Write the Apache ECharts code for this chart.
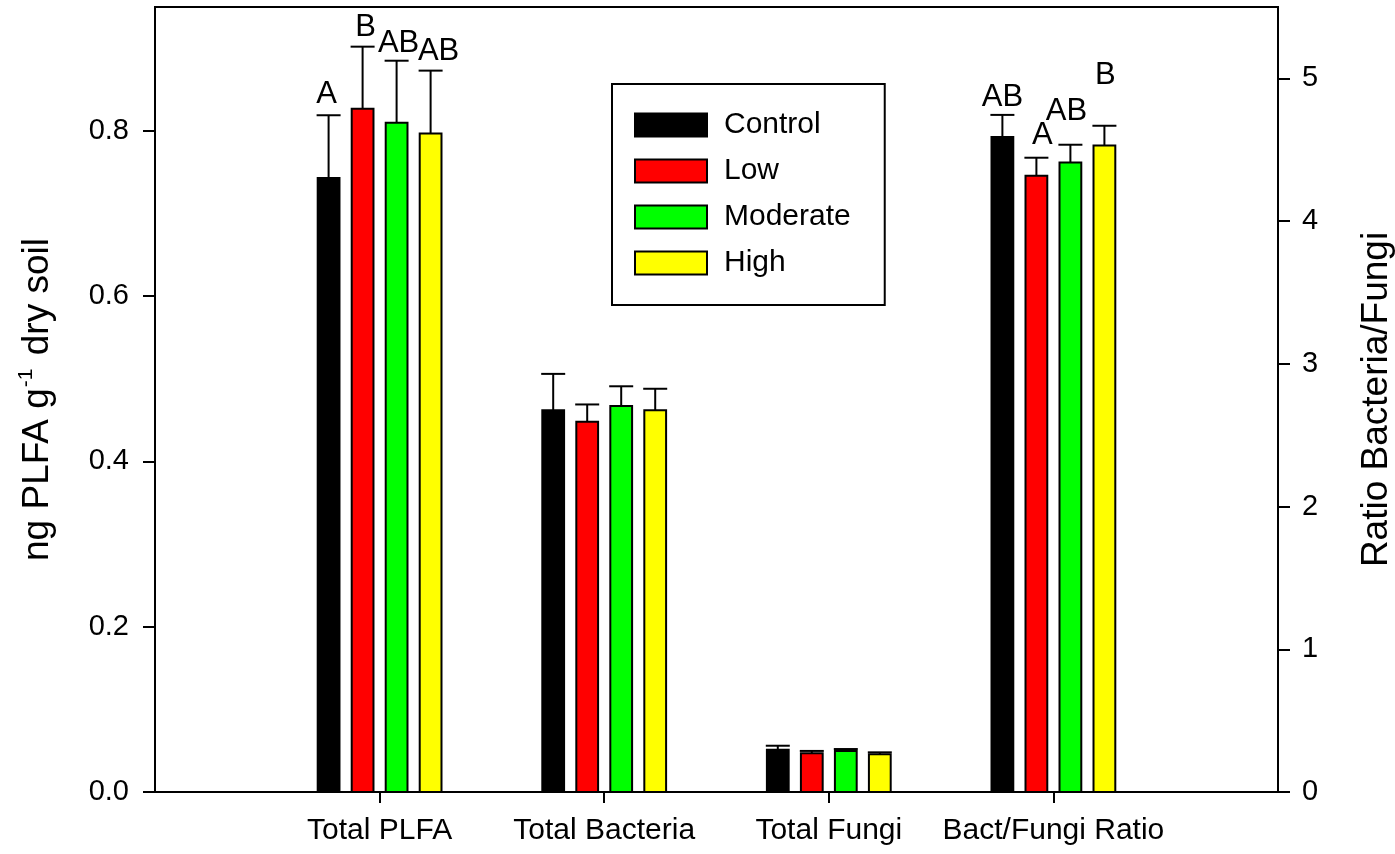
<!DOCTYPE html>
<html>
<head>
<meta charset="utf-8">
<script src="https://cdn.jsdelivr.net/npm/echarts@6/dist/echarts.min.js"></script>
<style>
html,body{margin:0;padding:0;background:#fff;}
#chart{width:1395px;height:854px;}
</style>
</head>
<body>
<div id="chart"></div>
<script>
// ---- data ----
const categories = ['Total PLFA', 'Total Bacteria', 'Total Fungi', 'Bact/Fungi Ratio'];
const treatments = ['Control', 'Low', 'Moderate', 'High'];
// means per treatment (Control, Low, Moderate, High)
const meanPLFA     = [0.743, 0.827, 0.810, 0.797];
const meanBacteria = [0.462, 0.448, 0.467, 0.462];
const meanFungi    = [0.051, 0.047, 0.0497, 0.0457];
const meanRatio    = [4.59, 4.318, 4.41, 4.53];
// standard errors
const sePLFA     = [0.076, 0.075, 0.075, 0.076];
const seBacteria = [0.044, 0.021, 0.024, 0.026];
const seFungi    = [0.005, 0.0027, 0.0023, 0.0023];
const seRatio    = [0.154, 0.126, 0.125, 0.138];
// significance letters
const lettersPLFA  = ['A', 'B', 'AB', 'AB'];
const lettersRatio = ['AB', 'A', 'AB', 'B'];
// axis ticks
const leftTicks  = [0, 0.2, 0.4, 0.6, 0.8];
const rightTicks = [0, 1, 2, 3, 4, 5];

// ---- styling / layout ----
const colors = ['#000000', '#ff0000', '#00ff00', '#ffff00'];
const FONT = 'Liberation Sans, Arial, sans-serif';
// pixel offsets [dx, dy-above-error-cap] for letters
const letterOffPLFA  = [[-2, 21], [3, 19], [2, 17], [8, 19]];
const letterOffRatio = [[0, 17], [6, 22], [-4, 33], [1, 50]];

function makeRender(t) {
  return function (params, api) {
    const pos = api.value(0), v = api.value(1), e = api.value(2);
    const base = api.coord([pos, 0]);
    const top = api.coord([pos, v]);
    const errTop = api.coord([pos, v + e]);
    const band = api.size([1, 0])[0];
    const barW = band * 0.097;
    const off = (t - 1.5) * band * 0.1514;
    const cx = base[0] + off;
    const children = [
      { type: 'line', shape: { x1: cx, y1: top[1], x2: cx, y2: errTop[1] },
        style: { stroke: '#000', lineWidth: 2 } },
      { type: 'line', shape: { x1: cx - 12, y1: errTop[1], x2: cx + 12, y2: errTop[1] },
        style: { stroke: '#000', lineWidth: 2 } },
      { type: 'rect', shape: { x: cx - barW / 2, y: top[1], width: barW, height: base[1] - top[1] },
        style: { fill: colors[t], stroke: '#000', lineWidth: 2 } }
    ];
    let letter = null, lo = null;
    if (pos === 1) { letter = lettersPLFA[t]; lo = letterOffPLFA[t]; }
    if (pos === 4) { letter = lettersRatio[t]; lo = letterOffRatio[t]; }
    if (letter) {
      children.push({ type: 'text', style: {
        text: letter, x: cx + lo[0], y: errTop[1] - lo[1],
        fill: '#000', fontSize: 31, fontFamily: FONT, align: 'center', verticalAlign: 'middle' } });
    }
    return { type: 'group', children: children };
  };
}

const series = [];
treatments.forEach(function (name, t) {
  series.push({
    name: name, type: 'custom', yAxisIndex: 0, renderItem: makeRender(t),
    itemStyle: { color: colors[t], borderColor: '#000', borderWidth: 2 },
    data: [[1, meanPLFA[t], sePLFA[t]], [2, meanBacteria[t], seBacteria[t]], [3, meanFungi[t], seFungi[t]]],
    clip: false, z: 2
  });
  series.push({
    name: name, type: 'custom', yAxisIndex: 1, renderItem: makeRender(t),
    itemStyle: { color: colors[t], borderColor: '#000', borderWidth: 2 },
    data: [[4, meanRatio[t], seRatio[t]]],
    clip: false, z: 2
  });
});

const chart = echarts.init(document.getElementById('chart'), null, { renderer: 'canvas' });
chart.setOption({
  animation: false,
  backgroundColor: '#fff',
  textStyle: { fontFamily: FONT },
  grid: { left: 155, right: 117, top: 7, bottom: 62, containLabel: false, outerBoundsMode: 'none',
    show: true, borderColor: '#000', borderWidth: 2, backgroundColor: 'transparent' },
  legend: {
    orient: 'vertical', left: 612, top: 84,
    padding: [26, 34, 27, 22],
    borderColor: '#000', borderWidth: 2, backgroundColor: '#fff',
    itemWidth: 72, itemHeight: 23, itemGap: 16,
    icon: 'rect',
    textStyle: { fontSize: 30, color: '#000', fontFamily: FONT, padding: [0, 0, 0, 12] },
    data: treatments.map(function (n, i) {
      return { name: n, itemStyle: { color: colors[i], borderColor: '#000', borderWidth: 2 } };
    })
  },
  xAxis: {
    type: 'category', boundaryGap: false,
    data: [''].concat(categories, ['']),
    axisLine: { lineStyle: { color: '#000', width: 2 } },
    axisTick: { length: 11, lineStyle: { color: '#000', width: 2 },
      interval: function (i) { return i > 0 && i < 5; } },
    axisLabel: { fontSize: 30, color: '#000', fontFamily: FONT, margin: 24,
      interval: function (i) { return i > 0 && i < 5; } },
    splitLine: { show: false }
  },
  yAxis: [{
    type: 'value', min: 0, max: 0.95, position: 'left',
    name: '{a|ng PLFA g}{s|-1}{a| dry soil}', nameLocation: 'middle', nameGap: 95, nameRotate: 90,
    nameTextStyle: { color: '#000', rich: {
      a: { fontSize: 37, fontFamily: FONT, color: '#000', lineHeight: 44 },
      s: { fontSize: 21, fontFamily: FONT, color: '#000', verticalAlign: 'top', lineHeight: 44, padding: [0, 3, 0, 1] } } },
    axisLine: { show: true, lineStyle: { color: '#000', width: 2 } },
    axisTick: { show: true, length: 12, lineStyle: { color: '#000', width: 2 }, customValues: leftTicks },
    axisLabel: { fontSize: 29, color: '#000', fontFamily: FONT, margin: 26, customValues: leftTicks,
      formatter: function (v) { return v.toFixed(1); } },
    splitLine: { show: false }
  }, {
    type: 'value', min: 0, max: 5.5, position: 'right',
    name: 'Ratio Bacteria/Fungi', nameLocation: 'middle', nameGap: 80, nameRotate: 90,
    nameTextStyle: { fontSize: 37, color: '#000', fontFamily: FONT },
    axisLine: { show: true, lineStyle: { color: '#000', width: 2 } },
    axisTick: { show: true, length: 12, lineStyle: { color: '#000', width: 2 }, customValues: rightTicks },
    axisLabel: { fontSize: 29, color: '#000', fontFamily: FONT, margin: 24, customValues: rightTicks,
      formatter: function (v) { return String(v); } },
    splitLine: { show: false }
  }],
  series: series
});
</script>
</body>
</html>
